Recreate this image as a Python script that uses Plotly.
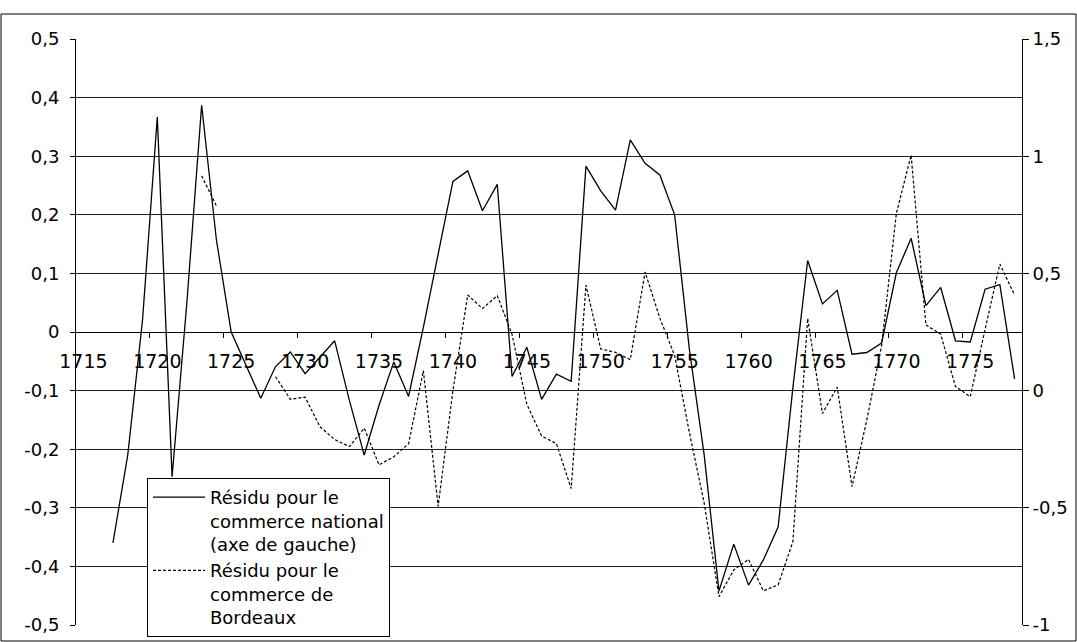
import plotly.graph_objects as go

# ---- data -------------------------------------------------------------
years = list(range(1715, 1779))

national = [
    None, None, -0.36, -0.21, 0.02, 0.367, -0.247, 0.05, 0.387, 0.157,      # 1715-1724
    0.0, -0.057, -0.113, -0.059, -0.034, -0.071, -0.043, -0.015, -0.117, -0.21,  # 1725-1734
    -0.125, -0.051, -0.110, 0.008, 0.133, 0.257, 0.275, 0.207, 0.252, -0.076,  # 1735-1744
    -0.026, -0.115, -0.072, -0.084, 0.283, 0.241, 0.208, 0.328, 0.288, 0.268,  # 1745-1754
    0.200, -0.03, -0.21, -0.442, -0.362, -0.432, -0.389, -0.333, -0.095, 0.122,  # 1755-1764
    0.048, 0.071, -0.038, -0.035, -0.019, 0.101, 0.160, 0.045, 0.076, -0.015,  # 1765-1774
    -0.017, 0.073, 0.081, -0.080,                                              # 1775-1778
]

bordeaux = [
    None, None, None, None, None, None, None, None, 0.916, 0.788,             # 1715-1724
    None, None, None, 0.059, -0.037, -0.028, -0.154, -0.209, -0.239, -0.160,  # 1725-1734
    -0.317, -0.282, -0.227, 0.085, -0.494, 0.0, 0.408, 0.35, 0.405, 0.24,     # 1735-1744
    -0.058, -0.194, -0.226, -0.418, 0.45, 0.178, 0.163, 0.132, 0.506, 0.309,  # 1745-1754
    0.15, -0.18, -0.48, -0.879, -0.765, -0.72, -0.854, -0.829, -0.644, 0.308,  # 1755-1764
    -0.098, 0.015, -0.41, -0.125, 0.19, 0.756, 1.005, 0.28, 0.241, 0.017,     # 1765-1774
    -0.026, 0.26, 0.54, 0.408,                                                # 1775-1778
]

x_label_years = [1715, 1720, 1725, 1730, 1735, 1740, 1745, 1750, 1755, 1760, 1765, 1770, 1775]
x_label_text = [str(v) for v in x_label_years]

left_ticks = [-0.5, -0.4, -0.3, -0.2, -0.1, 0, 0.1, 0.2, 0.3, 0.4, 0.5]
left_text = ["-0,5", "-0,4", "-0,3", "-0,2", "-0,1", "0", "0,1", "0,2", "0,3", "0,4", "0,5"]

right_ticks = [-1, -0.5, 0, 0.5, 1, 1.5]
right_text = ["-1", "-0,5", "0", "0,5", "1", "1,5"]

name_national = "Résidu pour le<br>commerce national<br>(axe de gauche)"
name_bordeaux = "Résidu pour le<br>commerce de<br>Bordeaux"

# ---- figure -----------------------------------------------------------
FONT = "DejaVu Sans, Liberation Sans, Arial, sans-serif"
W, H = 1077, 642
ML, MR, MT, MB = 76, 55, 39, 17
pw, ph = W - ML - MR, H - MT - MB

fig = go.Figure()
fig.add_trace(go.Scatter(
    x=years, y=national, mode="lines", name=name_national,
    line=dict(color="black", width=1.3), connectgaps=False, yaxis="y",
))
fig.add_trace(go.Scatter(
    x=years, y=bordeaux, mode="lines", name=name_bordeaux,
    line=dict(color="black", width=1.2, dash="3px,2px"), connectgaps=False, yaxis="y2",
))

minor_ticks = [v - 0.5 for v in x_label_years[1:]]

fig.update_layout(
    width=W, height=H,
    margin=dict(l=ML, r=MR, t=MT, b=MB, pad=0, autoexpand=False),
    paper_bgcolor="white", plot_bgcolor="white",
    font=dict(family=FONT, size=18, color="black"),
    xaxis=dict(
        range=[years[0] - 0.5, years[-1] + 0.5],
        anchor="free", position=0.5, automargin=False,
        showline=True, linecolor="black", linewidth=1,
        tickmode="array", tickvals=x_label_years, ticktext=x_label_text,
        ticks="", showgrid=False, zeroline=False,
        ticklabelstandoff=12,
        minor=dict(tickmode="array", tickvals=minor_ticks, ticks="outside",
                   ticklen=5, tickcolor="black", tickwidth=1, showgrid=False),
        tickfont=dict(family=FONT, size=19),
    ),
    yaxis=dict(
        range=[-0.5, 0.5], tickmode="array", tickvals=left_ticks, ticktext=left_text,
        showgrid=True, gridcolor="#222222", gridwidth=1, automargin=False,
        showline=True, linecolor="black", linewidth=1,
        ticks="outside", ticklen=5, tickcolor="black",
        zeroline=False, ticklabelstandoff=7,
        tickfont=dict(family=FONT, size=18),
    ),
    yaxis2=dict(
        range=[-1, 1.5], overlaying="y", side="right", anchor="x", automargin=False,
        tickmode="array", tickvals=right_ticks, ticktext=right_text,
        showgrid=False, showline=True, linecolor="black", linewidth=1,
        ticks="outside", ticklen=6, tickcolor="black",
        zeroline=False, ticklabelstandoff=0,
        tickfont=dict(family=FONT, size=18),
    ),
    legend=dict(
        x=(147 - ML) / pw, y=(H - MB - 637) / ph, xanchor="left", yanchor="bottom",
        bgcolor="white", bordercolor="black", borderwidth=1,
        valign="top", itemwidth=52, tracegroupgap=0,
        font=dict(family=FONT, size=18),
    ),
    showlegend=True,
    shapes=[dict(
        type="rect", xref="paper", yref="paper", layer="below",
        x0=(1 - ML) / pw, x1=(W - 1 - ML) / pw,
        y0=(H - MB - (H - 1)) / ph, y1=(H - MB - 14) / ph,
        line=dict(color="black", width=1), fillcolor="rgba(0,0,0,0)",
    )],
)

fig.write_html(
    "out.html",
    config={"displayModeBar": False},
    post_script="document.body.style.margin='0px';document.body.style.overflow='hidden';",
)
